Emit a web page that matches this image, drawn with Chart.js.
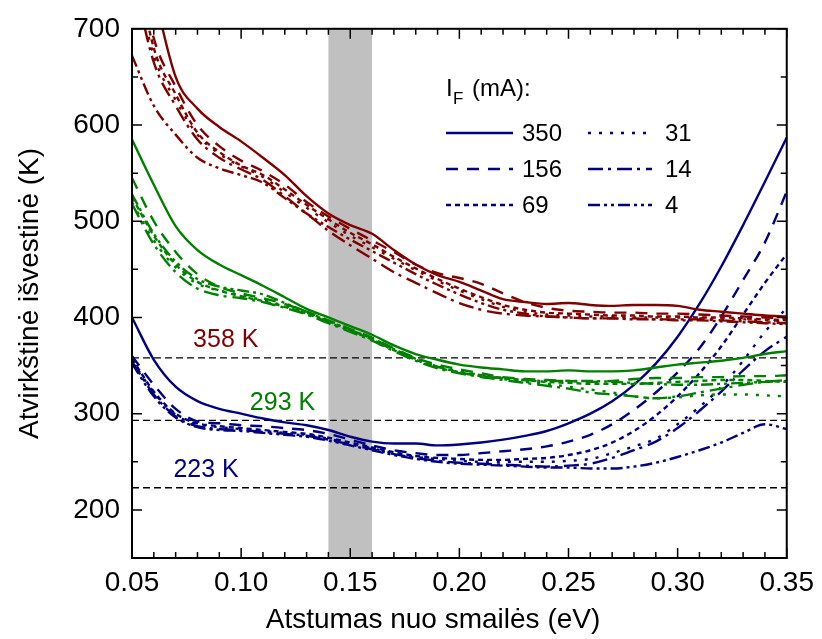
<!DOCTYPE html>
<html>
<head>
<meta charset="utf-8">
<script src="https://cdn.jsdelivr.net/npm/chart.js@4.4.1/dist/chart.umd.min.js"></script>
<style>
html, body { margin: 0; padding: 0; background: #fff; }
</style>
</head>
<body>
<canvas id="chart" width="822" height="639"></canvas>
<script>
// x: distance from the peak (eV)
const energy = [0.05, 0.06, 0.07, 0.08, 0.09, 0.10, 0.11, 0.12, 0.13, 0.14, 0.15,
                0.16, 0.17, 0.18, 0.19, 0.20, 0.21, 0.22, 0.23, 0.24, 0.25,
                0.26, 0.27, 0.28, 0.29, 0.30, 0.31, 0.32, 0.33, 0.34, 0.35];

const currents = [350, 156, 69, 31, 14, 4];

// 358 K
const red350 = [850, 740, 650, 617, 598, 583, 566, 548, 526, 508, 496, 487, 470, 455, 444, 437, 428, 419, 416, 414, 415, 413, 412, 413, 413, 412, 408, 406, 404, 402, 401];
const red156 = [800, 690, 640, 600, 578, 563, 552, 538, 520, 505, 492, 480, 468, 455, 446, 441, 435, 425, 416, 410, 407, 406, 405, 405, 404, 404, 403, 402, 401, 400, 399];
const red69  = [790, 680, 632, 592, 572, 558, 548, 533, 517, 502, 488, 476, 463, 451, 440, 430, 421, 413, 408, 405, 404, 403, 402, 402, 401, 401, 400, 400, 399, 398, 397];
const red31  = [770, 672, 626, 590, 570, 557, 546, 530, 514, 499, 485, 473, 461, 449, 438, 428, 419, 411, 406, 403, 402, 401, 401, 400, 400, 400, 399, 398, 398, 397, 396];
const red14  = [760, 665, 620, 585, 566, 554, 543, 526, 508, 490, 475, 461, 447, 436, 425, 415, 408, 404, 402, 401, 400, 399, 399, 399, 398, 398, 398, 397, 396, 395, 394];
const red4   = [672, 620, 590, 566, 555, 548, 540, 524, 508, 494, 481, 469, 457, 445, 434, 424, 415, 408, 404, 401, 400, 399, 399, 398, 398, 397, 397, 396, 395, 394, 393];

// 293 K
const green350 = [585, 538, 495, 470, 455, 444, 433, 421, 409, 400, 391, 382, 371, 362, 356, 351, 348, 346, 344, 344, 345, 344, 344, 345, 348, 351, 353, 355, 358, 362, 365];
const green156 = [545, 500, 468, 445, 432, 425, 420, 414, 406, 397, 388, 379, 368, 358, 351, 346, 342, 338, 336, 335, 334, 333, 334, 336, 337, 337, 338, 338, 339, 339, 340];
const green69  = [525, 485, 455, 437, 428, 422, 417, 411, 404, 395, 386, 377, 366, 356, 348, 343, 340, 337, 335, 333, 332, 331, 331, 331, 332, 333, 334, 335, 335, 334, 333];
const green31  = [520, 480, 452, 435, 428, 423, 418, 412, 405, 396, 387, 378, 367, 357, 349, 344, 340, 336, 333, 331, 328, 325, 322, 318, 316, 317, 319, 320, 320, 319, 318];
const green14  = [518, 476, 447, 430, 423, 420, 416, 410, 403, 394, 385, 376, 365, 355, 347, 342, 338, 335, 332, 329, 326, 322, 320, 318, 316, 318, 322, 326, 330, 333, 335];
const green4   = [528, 487, 458, 440, 432, 428, 424, 415, 406, 396, 387, 378, 367, 357, 349, 343, 339, 337, 335, 334, 334, 334, 333, 332, 331, 330, 330, 331, 332, 333, 334];

// 223 K
const blue350 = [400, 356, 328, 313, 305, 300, 295, 291, 288, 283, 276, 271, 269, 269, 267, 268, 270, 273, 277, 282, 290, 300, 313, 330, 352, 380, 414, 453, 496, 541, 587];
const blue156 = [360, 330, 305, 292, 290, 288, 287, 285, 283, 279, 273, 267, 262, 259, 257, 257, 259, 261, 263, 266, 271, 278, 289, 304, 322, 343, 368, 401, 439, 478, 531];
const blue69  = [357, 323, 300, 290, 287, 285, 283, 281, 279, 275, 270, 265, 260, 256, 254, 253, 252, 252, 253, 254, 257, 262, 270, 282, 298, 318, 342, 370, 403, 436, 466];
const blue31  = [355, 322, 299, 289, 286, 284, 282, 280, 278, 274, 269, 264, 259, 255, 253, 251, 250, 250, 250, 250, 251, 253, 259, 266, 274, 289, 307, 328, 355, 385, 410];
const blue14  = [354, 320, 297, 287, 284, 283, 281, 279, 277, 273, 268, 263, 258, 254, 251, 249, 248, 247, 246, 245, 246, 248, 254, 262, 271, 285, 303, 323, 345, 365, 380];
const blue4   = [352, 318, 296, 286, 283, 282, 280, 278, 276, 272, 267, 262, 257, 253, 250, 248, 247, 246, 245, 244, 244, 243, 243, 245, 249, 255, 262, 270, 280, 289, 284];

const levels = [358, 293, 223];
const levelText = ['358 K', '293 K', '223 K'];
const levelTextAt = [[0.078, 376], [0.104, 311], [0.069, 241]];
const band = [0.14, 0.16];

const xTicks = [0.05, 0.10, 0.15, 0.20, 0.25, 0.30, 0.35];
const yTicks = [200, 300, 400, 500, 600, 700];

const RED = '#800000', GREEN = '#008000', BLUE = '#000080';
const dashes = [[], [12, 9], [5, 4], [3, 8], [15, 5, 3, 6], [12, 4, 3, 4, 3, 4]];
const FONT = "'Liberation Sans', Arial, sans-serif";

function series(values, color, i) {
    return {
        data: values.map((v, k) => ({ x: energy[k], y: v })),
        borderColor: color,
        borderWidth: 2.4,
        borderDash: dashes[i],
        pointRadius: 0,
        cubicInterpolationMode: 'monotone',
        fill: false
    };
}

const datasets = [];
[red350, red156, red69, red31, red14, red4].forEach((s, i) => datasets.push(series(s, RED, i)));
[green350, green156, green69, green31, green14, green4].forEach((s, i) => datasets.push(series(s, GREEN, i)));
[blue350, blue156, blue69, blue31, blue14, blue4].forEach((s, i) => datasets.push(series(s, BLUE, i)));

// band, reference lines, frame with inward ticks, labels and legend
const decorations = {
    id: 'decorations',
    beforeDatasetsDraw(chart) {
        const { ctx, chartArea: a, scales: { x, y } } = chart;
        ctx.save();
        ctx.fillStyle = '#c0c0c0';
        const b0 = x.getPixelForValue(band[0]), b1 = x.getPixelForValue(band[1]);
        ctx.fillRect(b0, a.top, b1 - b0, a.bottom - a.top);

        ctx.strokeStyle = '#000';
        ctx.lineWidth = 1.3;
        ctx.setLineDash([7, 4]);
        levels.forEach(l => {
            const py = y.getPixelForValue(l);
            ctx.beginPath();
            ctx.moveTo(a.left, py);
            ctx.lineTo(a.right, py);
            ctx.stroke();
        });
        ctx.restore();
    },
    afterDatasetsDraw(chart) {
        const { ctx, chartArea: a, scales: { x, y } } = chart;
        ctx.save();
        ctx.strokeStyle = '#000';
        ctx.lineWidth = 2;
        ctx.setLineDash([]);
        ctx.strokeRect(a.left, a.top, a.right - a.left, a.bottom - a.top);

        ctx.lineWidth = 1.5;
        ctx.beginPath();
        for (let k = 0; k <= 30; k++) {
            const v = 0.05 + k * 0.01;
            const px = x.getPixelForValue(v);
            const len = k % 5 === 0 ? 10 : 6;
            ctx.moveTo(px, a.bottom); ctx.lineTo(px, a.bottom - len);
            ctx.moveTo(px, a.top); ctx.lineTo(px, a.top + len);
        }
        for (let v = 150; v <= 700; v += 50) {
            const py = y.getPixelForValue(v);
            const len = v % 100 === 0 ? 10 : 6;
            ctx.moveTo(a.left, py); ctx.lineTo(a.left + len, py);
            ctx.moveTo(a.right, py); ctx.lineTo(a.right - len, py);
        }
        ctx.stroke();

        // x axis title
        ctx.fillStyle = '#000';
        ctx.font = '28px ' + FONT;
        ctx.textAlign = 'center';
        ctx.textBaseline = 'middle';
        ctx.fillText('Atstumas nuo smailės (eV)', 433, 620);

        // temperature labels
        ctx.font = '25px ' + FONT;
        ctx.textAlign = 'left';
        [RED, GREEN, BLUE].forEach((c, i) => {
            ctx.fillStyle = c;
            ctx.fillText(levelText[i], x.getPixelForValue(levelTextAt[i][0]), y.getPixelForValue(levelTextAt[i][1]));
        });

        // legend
        ctx.fillStyle = '#000';
        ctx.textBaseline = 'alphabetic';
        ctx.font = '24px ' + FONT;
        ctx.fillText('I', 446, 96);
        ctx.font = '17px ' + FONT;
        ctx.fillText('F', 453, 104);
        ctx.font = '24px ' + FONT;
        ctx.fillText('(mA):', 472, 96);

        const cols = [[446, 513, 522], [588, 652, 665]];
        const rows = [133, 169, 205];
        ctx.textBaseline = 'middle';
        currents.forEach((c, i) => {
            const col = cols[Math.floor(i / 3)], ry = rows[i % 3];
            ctx.strokeStyle = BLUE;
            ctx.lineWidth = 2.5;
            ctx.setLineDash(dashes[i]);
            ctx.beginPath();
            ctx.moveTo(col[0], ry);
            ctx.lineTo(col[1], ry);
            ctx.stroke();
            ctx.fillStyle = '#000';
            ctx.fillText(String(c), col[2], ry + 1);
        });
        ctx.restore();
    }
};

new Chart(document.getElementById('chart'), {
    type: 'line',
    data: { datasets },
    plugins: [decorations],
    options: {
        responsive: false,
        animation: false,
        devicePixelRatio: 1,
        layout: { padding: { left: 0, right: 33, top: 27, bottom: 0 } },
        plugins: { legend: { display: false }, tooltip: { enabled: false } },
        scales: {
            x: {
                type: 'linear',
                min: 0.05,
                max: 0.35,
                afterBuildTicks: s => { s.ticks = xTicks.map(v => ({ value: v })); },
                afterFit: s => { s.height = 81; },
                grid: { display: false, drawTicks: false },
                border: { display: false },
                ticks: {
                    color: '#000',
                    font: { family: FONT, size: 28 },
                    padding: 8,
                    maxRotation: 0,
                    autoSkip: false,
                    callback: v => v.toFixed(2)
                },
                title: { display: false }
            },
            y: {
                min: 150,
                max: 700,
                afterBuildTicks: s => { s.ticks = yTicks.map(v => ({ value: v })); },
                afterFit: s => { s.width = 132; },
                grid: { display: false, drawTicks: false },
                border: { display: false },
                ticks: {
                    color: '#000',
                    font: { family: FONT, size: 28 },
                    padding: 12,
                    autoSkip: false
                },
                title: {
                    display: true,
                    text: 'Atvirkštinė išvestinė (K)',
                    color: '#000',
                    font: { family: FONT, size: 28 },
                    padding: { top: 13, bottom: 0 }
                }
            }
        }
    }
});
</script>
</body>
</html>
